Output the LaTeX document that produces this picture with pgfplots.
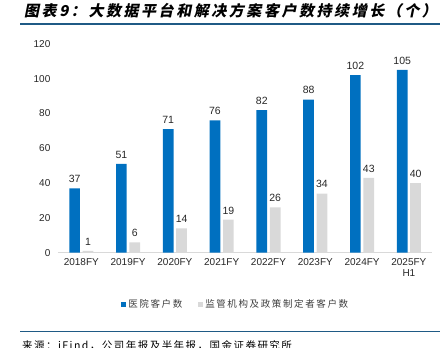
\documentclass[border=0pt]{standalone}
\usepackage{fontspec}
\usepackage{pgfplots}
\pgfplotsset{compat=1.18}
\setmainfont{Liberation Sans}
\newfontfamily\cjk[LetterSpace=14]{Noto Sans CJK SC}
\newfontfamily\cjktitle[FakeSlant=0.2,LetterSpace=17]{Noto Sans CJK SC}
\newfontfamily\cjkleg[LetterSpace=17]{Noto Sans CJK SC}
\definecolor{barblue}{HTML}{0070C0}
\definecolor{bargray}{HTML}{D9D9D9}
\definecolor{rulecol}{HTML}{1F5A85}
\begin{document}
\begin{tikzpicture}[x=1pt,y=1pt]
\useasboundingbox (0,0) rectangle (440,348);
% title and rules
\node[anchor=west,inner sep=0] at (24,337) {\cjktitle\bfseries\fontsize{15}{16}\selectfont 图表9：大数据平台和解决方案客户数持续增长（个）};
\draw[rulecol,line width=1.4pt] (20,324) -- (440,324);
\draw[rulecol,line width=1.4pt] (20,16.5) -- (440,16.5);
\node[anchor=west,inner sep=0] at (22,2.5) {\cjk\fontsize{10.5}{12}\selectfont 来源：iFind，公司年报及半年报，国金证券研究所};
\begin{axis}[
  at={(81.3pt,95.3pt)}, anchor=origin,
  scale only axis, width=374.4pt, height=208.8pt,
  ybar=2.7pt, bar width=10.7pt,
  xmin=-0.5, xmax=7.5, ymin=0, ymax=120,
  xtick=data,
  xticklabels={2018FY,2019FY,2020FY,2021FY,2022FY,2023FY,2024FY,{2025FY\\H1}},
  xticklabel style={align=center, font=\fontsize{10}{11}\selectfont, text=black!85, yshift=-2pt},
  ytick={0,20,40,60,80,100,120},
  yticklabel style={font=\fontsize{10}{11}\selectfont, text=black!85, xshift=-4pt},
  /pgf/number format/assume math mode=true,
  major tick length=0pt,
  axis x line*=bottom, axis y line*=left,
  x axis line style={draw=bargray, line width=1pt, -},
  y axis line style={draw=none},
  nodes near coords,
  nodes near coords style={font=\fontsize{10.5}{12}\selectfont, text=black!85, yshift=2pt},
  legend style={at={(0.475,-0.249)}, anchor=center, draw=none, legend columns=2,
    font=\cjkleg\fontsize{9.5}{11}\selectfont, text=black!75,
    /tikz/every even column/.append style={column sep=14pt}},
  legend image code/.code={\fill[#1] (0pt,-2.5pt) rectangle (5pt,2.5pt);},
]
\addplot[fill=barblue, draw=none] coordinates {(0,37) (1,51) (2,71) (3,76) (4,82) (5,88) (6,102) (7,105)};
\addplot[fill=bargray, draw=none] coordinates {(0,1) (1,6) (2,14) (3,19) (4,26) (5,34) (6,43) (7,40)};
\legend{医院客户数, 监管机构及政策制定者客户数}
\end{axis}
\end{tikzpicture}
\end{document}
